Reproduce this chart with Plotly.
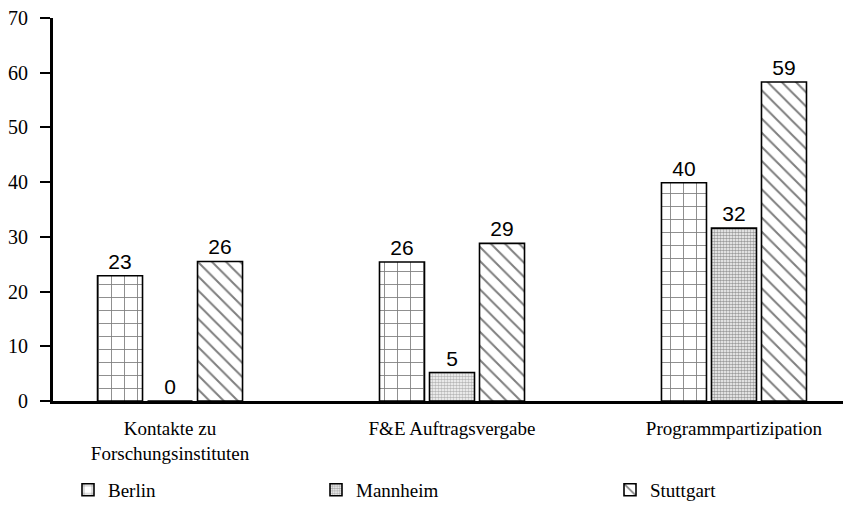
import plotly.graph_objects as go

categories = ["Kontakte zu<br>Forschungsinstituten", "F&E Auftragsvergabe", "Programmpartizipation"]
series_names = ["Berlin", "Mannheim", "Stuttgart"]
berlin = [22.9, 25.4, 39.9]
mannheim = [0.0, 5.2, 31.6]
stuttgart = [25.5, 28.8, 58.3]
berlin_labels = ["23", "26", "40"]
mannheim_labels = ["0", "5", "32"]
stuttgart_labels = ["26", "29", "59"]
y_ticks = [0, 10, 20, 30, 40, 50, 60, 70]

SERIF = "Liberation Serif"
SANS = "Liberation Sans"
x_idx = list(range(len(categories)))

patterns = [
    dict(shape="+", size=13, solidity=0.13, fgcolor="black", bgcolor="white", fillmode="overlay"),
    dict(shape=".", size=3, solidity=0.6, fgcolor=["#555555", "#707070", "#3a3a3a"],
         bgcolor="white", fillmode="overlay"),
    dict(shape="\\", size=10, solidity=0.2, fgcolor="black", bgcolor="white", fillmode="overlay"),
]
values = [berlin, mannheim, stuttgart]
labels = [berlin_labels, mannheim_labels, stuttgart_labels]
legend_ids = ["legend", "legend2", "legend3"]

fig = go.Figure()
for name, vals, labs, pat, lg in zip(series_names, values, labels, patterns, legend_ids):
    fig.add_trace(go.Bar(
        x=x_idx, y=vals, name=name, text=labs, textposition="outside",
        textfont=dict(family=SANS, size=21, color="black"),
        marker=dict(color="white", pattern=pat, line=dict(color="black", width=1.6)),
        cliponaxis=False, legend=lg,
    ))

legend_common = dict(orientation="h", yanchor="middle", xanchor="left", y=-0.232,
                     font=dict(family=SERIF, size=19, color="black"), bgcolor="rgba(0,0,0,0)",
                     itemwidth=30)
# page body has an 8px default margin; figure size/margins compensate for it
fig.update_layout(
    width=843, height=499,
    margin=dict(l=45, r=0, t=10, b=106, autoexpand=False),
    paper_bgcolor="white", plot_bgcolor="white",
    barmode="group", bargap=0.468, bargroupgap=0.1,
    showlegend=True,
    legend=dict(x=(68 - 53) / 798, **legend_common),
    legend2=dict(x=(316 - 53) / 798, **legend_common),
    legend3=dict(x=(610 - 53) / 798, **legend_common),
    font=dict(family=SERIF, size=18, color="black"),
)
fig.update_xaxes(
    range=[-0.415, 2.415], tickmode="array", tickvals=x_idx, ticktext=categories,
    showline=True, linecolor="black", linewidth=3, ticks="", showgrid=False,
    zeroline=False, tickfont=dict(family=SERIF, size=19, color="black"),
    ticklabelstandoff=8, automargin=False, ticklabeloverflow="allow",
)
fig.update_yaxes(
    range=[0, 70], tickmode="array", tickvals=y_ticks,
    showline=True, linecolor="black", linewidth=3, ticks="outside", ticklen=10,
    tickwidth=2, tickcolor="black", showgrid=False, zeroline=False,
    tickfont=dict(family=SERIF, size=20, color="black"), ticklabelstandoff=8,
    automargin=False, ticklabeloverflow="allow",
)
fig.write_html("out.html")
